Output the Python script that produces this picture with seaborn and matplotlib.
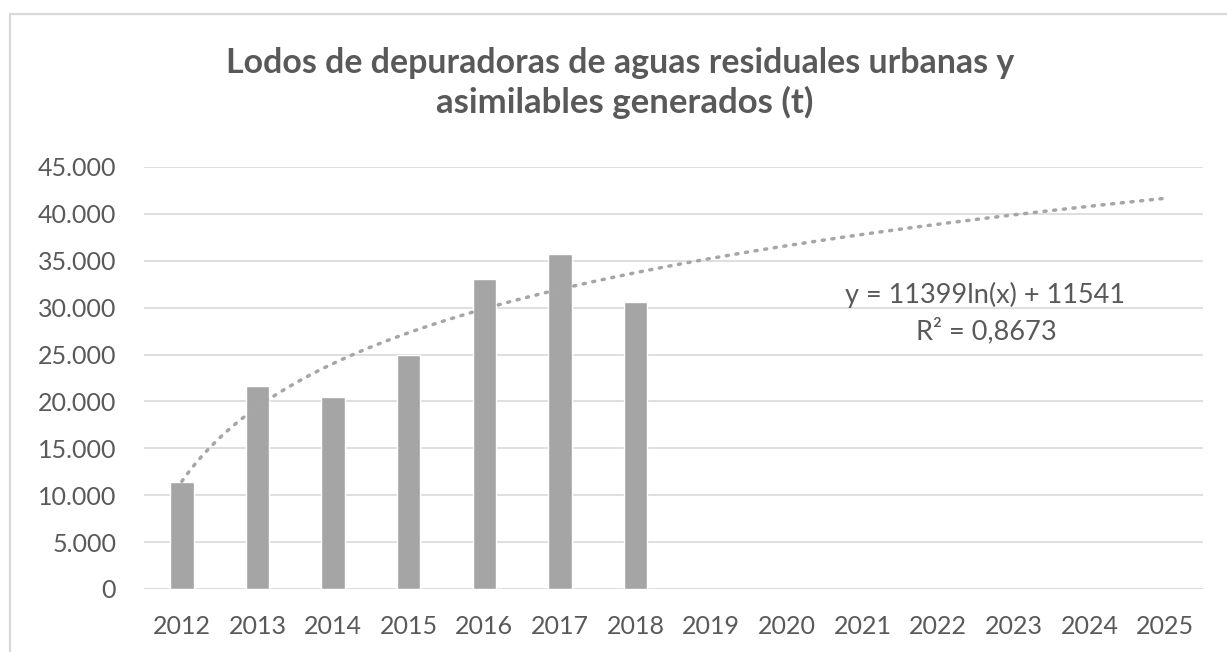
import numpy as np
import matplotlib
matplotlib.use("Agg")
import matplotlib.pyplot as plt
import seaborn as sns
from matplotlib.ticker import FuncFormatter, MultipleLocator
from matplotlib.patches import Rectangle

# Data
YEARS = [str(y) for y in range(2012, 2026)]
DATA_YEARS = ["2012", "2013", "2014", "2015", "2016", "2017", "2018"]
SLUDGE_T = [11400, 21700, 20500, 24900, 33050, 35700, 30600]

TITLE_LINE_1 = "Lodos de depuradoras de aguas residuales urbanas y"
TITLE_LINE_2 = "asimilables generados (t)"
EQUATION_TEXT = "y = 11399ln(x) + 11541"
R2_TEXT = "R² = 0,8673"

# Styles
BAR_GREY = "#A5A5A5"
TREND_GREY = "#A6A6A6"
GRID_GREY = "#D9D9D9"
TEXT_GREY = "#595959"

sns.set_theme(style="white")
plt.rcParams["font.family"] = ["Lato", "DejaVu Sans"]

W, H = 1227, 652
fig = plt.figure(figsize=(W / 100, H / 100), dpi=100)

# outer chart border (Excel chart area)
fig.patches.append(Rectangle((10 / W, -0.05), 1.1, (H - 14) / H + 0.05,
                             transform=fig.transFigure, fill=False,
                             edgecolor=GRID_GREY, linewidth=1.6))

ax = fig.add_axes([144 / W, (H - 589) / H, (1203 - 144) / W, (589 - 167) / H])

sns.barplot(x=DATA_YEARS, y=SLUDGE_T, order=YEARS, color=BAR_GREY,
            saturation=1, width=0.31, ax=ax)

# logarithmic trendline fitted on the bars (x = 1, 2, ...)
x_idx = np.arange(1, len(SLUDGE_T) + 1)
slope, intercept = np.polyfit(np.log(x_idx), SLUDGE_T, 1)
xs = np.linspace(1, len(YEARS), 300)
ax.plot(xs - 1, slope * np.log(xs) + intercept, color=TREND_GREY,
        linewidth=2.5, linestyle=(0, (0.6, 2.2)), dash_capstyle="round",
        zorder=3)

ax.set_xlim(-0.5, len(YEARS) - 0.5)
ax.set_ylim(0, 45000)
ax.yaxis.set_major_locator(MultipleLocator(5000))
ax.yaxis.set_major_formatter(FuncFormatter(lambda v, p: f"{int(v):,}".replace(",", ".")))
ax.yaxis.grid(True, color=GRID_GREY, linewidth=1.2)
ax.set_axisbelow(True)
for s in ax.spines.values():
    s.set_visible(False)
ax.set_xlabel("")
ax.set_ylabel("")
ax.tick_params(axis="y", length=0, pad=20, labelsize=18, labelcolor=TEXT_GREY)
ax.tick_params(axis="x", length=0, pad=19, labelsize=18, labelcolor=TEXT_GREY)

# title
fig.text(620 / W, (H - 73) / H, TITLE_LINE_1, ha="center", va="baseline",
         fontsize=24.4, fontweight="bold", color=TEXT_GREY)
fig.text(625 / W, (H - 113) / H, TITLE_LINE_2, ha="center", va="baseline",
         fontsize=25, fontweight="bold", color=TEXT_GREY)

# trendline label
fig.text(985 / W, (H - 303) / H, EQUATION_TEXT, ha="center", va="baseline",
         fontsize=19.5, color=TEXT_GREY)
fig.text(986 / W, (H - 339) / H, R2_TEXT, ha="center", va="baseline",
         fontsize=19.5, color=TEXT_GREY)

fig.savefig("out.png", dpi=100)
